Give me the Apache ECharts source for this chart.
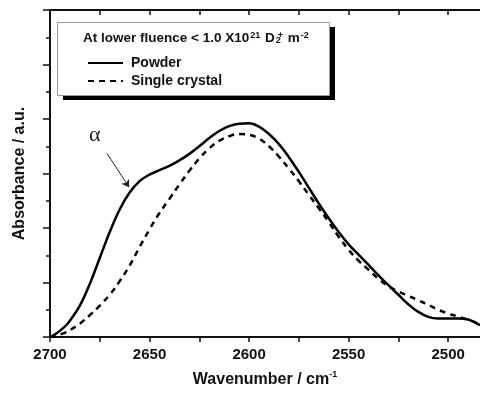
<!DOCTYPE html>
<html>
<head>
<meta charset="utf-8">
<script src="https://cdn.jsdelivr.net/npm/echarts@6/dist/echarts.min.js"></script>
<style>
  html, body { margin: 0; padding: 0; background: #fff; }
  #chart { width: 480px; height: 395px; }
</style>
</head>
<body>
<div id="chart"></div>
<script>
// wavenumber (cm-1)
const wavenumber = [2700, 2697, 2693, 2690, 2685, 2680, 2675, 2670, 2665, 2660, 2655, 2650, 2645, 2640,
  2635, 2630, 2625, 2620, 2615, 2610, 2605, 2600, 2595, 2590, 2585, 2580, 2575, 2570, 2565, 2560,
  2555, 2550, 2545, 2540, 2535, 2530, 2525, 2520, 2515, 2510, 2505, 2500, 2495, 2490, 2484]
// absorbance, powder (solid line)
const powder = [0, 0.012, 0.035, 0.06, 0.115, 0.195, 0.29, 0.385, 0.468, 0.53, 0.572, 0.596, 0.612, 0.628,
  0.648, 0.672, 0.70, 0.73, 0.756, 0.774, 0.783, 0.784, 0.772, 0.745, 0.708, 0.66, 0.606, 0.548, 0.49, 0.436,
  0.385, 0.34, 0.302, 0.265, 0.226, 0.19, 0.155, 0.12, 0.092, 0.074, 0.068, 0.068, 0.068, 0.064, 0.043]
// absorbance, single crystal (dashed line)
const singleCrystal = [0, 0.005, 0.014, 0.025, 0.049, 0.08, 0.115, 0.155, 0.205, 0.262, 0.33, 0.395, 0.455, 0.507,
  0.56, 0.61, 0.655, 0.692, 0.72, 0.737, 0.745, 0.742, 0.728, 0.70, 0.662, 0.618, 0.572, 0.522, 0.473, 0.422,
  0.368, 0.32, 0.28, 0.247, 0.213, 0.186, 0.167, 0.151, 0.135, 0.118, 0.10, 0.086, 0.075, 0.063, 0.048]
// axis ticks
const xLabels = [2700, 2650, 2600, 2550, 2500]
const xTicks = [2700, 2675, 2650, 2625, 2600, 2575, 2550, 2525, 2500]
// alpha shoulder annotation (arrow from -> to, label position)
const alphaArrow = [[2671.4, 0.674], [2660.3, 0.55]]
const alphaLabel = [2677.5, 0.74]

const FONT = 'Liberation Sans, Arial, sans-serif'

const chart = echarts.init(document.getElementById('chart'))

function pairs (ys) {
  return wavenumber.map((x, i) => [x, ys[i]])
}

const option = {
  animation: false,
  backgroundColor: '#fff',
  textStyle: { fontFamily: FONT },
  grid: { left: 50, right: 0, top: 10, bottom: 58, outerBoundsMode: 'none' },
  legend: {
    orient: 'vertical',
    left: 82,
    top: 51,
    itemWidth: 35,
    itemHeight: 14,
    itemGap: 4,
    itemStyle: { opacity: 0 }, // only the line, no symbol
    textStyle: { fontFamily: FONT, fontSize: 14, fontWeight: 'bold', color: '#111', padding: [0, 0, 0, 3] },
    data: ['Powder', 'Single crystal']
  },
  graphic: [
    // shadow of the legend box
    { type: 'rect', shape: { x: 63, y: 27, width: 272, height: 73 }, style: { fill: '#000' }, z: 0 },
    { type: 'rect', shape: { x: 57.5, y: 22.5, width: 272, height: 73 }, style: { fill: '#fff', stroke: '#999', lineWidth: 1 }, z: 1 },
    {
      type: 'text',
      x: 83,
      y: 38,
      z: 2,
      style: {
        text: 'At lower fluence < 1.0 X10{sup|21} D{sub|2}{sup|+} m{sup|-2}',
        font: 'bold 13.5px ' + FONT,
        fill: '#111',
        verticalAlign: 'middle',
        rich: {
          sup: { fontSize: 9, fontWeight: 'bold', fontFamily: FONT, verticalAlign: 'top', lineHeight: 8, padding: [0, 1, 0, 1], fill: '#111' },
          sub: { fontSize: 9, fontWeight: 'bold', fontFamily: FONT, verticalAlign: 'bottom', lineHeight: 8, width: 1, padding: [0, 0, 0, 1], fill: '#111' }
        }
      }
    }
  ],
  xAxis: [
    {
      type: 'value',
      inverse: true,
      min: 2484,
      max: 2700,
      name: 'Wavenumber / cm{sup|-1}',
      nameLocation: 'middle',
      nameGap: 33,
      nameTextStyle: {
        fontFamily: FONT,
        fontSize: 16,
        fontWeight: 'bold',
        color: '#111',
        lineHeight: 20,
        rich: { sup: { fontSize: 9, fontWeight: 'bold', fontFamily: FONT, verticalAlign: 'top', lineHeight: 9, color: '#111' } }
      },
      axisLine: { lineStyle: { color: '#111', width: 2 } },
      axisTick: { length: 5, lineStyle: { color: '#111', width: 1.5 }, customValues: xTicks },
      axisLabel: { fontFamily: FONT, fontSize: 15, fontWeight: 'bold', color: '#111', margin: 10, customValues: xLabels, formatter: v => String(v) },
      splitLine: { show: false }
    },
    {
      // top frame with inward ticks
      type: 'value',
      position: 'top',
      inverse: true,
      min: 2484,
      max: 2700,
      axisLine: { lineStyle: { color: '#111', width: 2 } },
      axisTick: { inside: true, length: 5, lineStyle: { color: '#111', width: 1.5 }, customValues: xTicks },
      axisLabel: { show: false },
      splitLine: { show: false }
    }
  ],
  yAxis: {
    type: 'value',
    min: 0,
    max: 1.2,
    interval: 0.2,
    name: 'Absorbance / a.u.',
    nameLocation: 'middle',
    nameGap: 22,
    nameTextStyle: { fontFamily: FONT, fontSize: 16, fontWeight: 'bold', color: '#111' },
    axisLine: { show: true, lineStyle: { color: '#111', width: 2 } },
    axisTick: { show: true, length: 7, lineStyle: { color: '#111', width: 1.5 } },
    minorTick: { show: true, splitNumber: 2, length: 4, lineStyle: { color: '#111', width: 1.5 } },
    axisLabel: { show: false },
    splitLine: { show: false }
  },
  series: [
    {
      name: 'Powder',
      type: 'line',
      data: pairs(powder),
      symbol: 'none',
      smooth: 0.4,
      lineStyle: { color: '#000', width: 2.5, type: 'solid' },
      itemStyle: { color: '#000' },
      markLine: {
        silent: true,
        symbol: ['none', 'arrow'],
        symbolSize: 7,
        label: { show: false },
        lineStyle: { color: '#222', width: 1, type: 'solid' },
        data: [[{ coord: alphaArrow[0] }, { coord: alphaArrow[1] }]]
      },
      markPoint: {
        silent: true,
        symbolSize: 0,
        label: { show: true, position: 'inside', formatter: 'α', fontFamily: 'Liberation Serif, DejaVu Serif, serif', fontSize: 22, color: '#222' },
        data: [{ coord: alphaLabel }]
      }
    },
    {
      name: 'Single crystal',
      type: 'line',
      data: pairs(singleCrystal),
      symbol: 'none',
      smooth: 0.4,
      lineStyle: { color: '#000', width: 2.5, type: [6, 5] },
      itemStyle: { color: '#000' }
    }
  ]
}

chart.setOption(option)
</script>
</body>
</html>
